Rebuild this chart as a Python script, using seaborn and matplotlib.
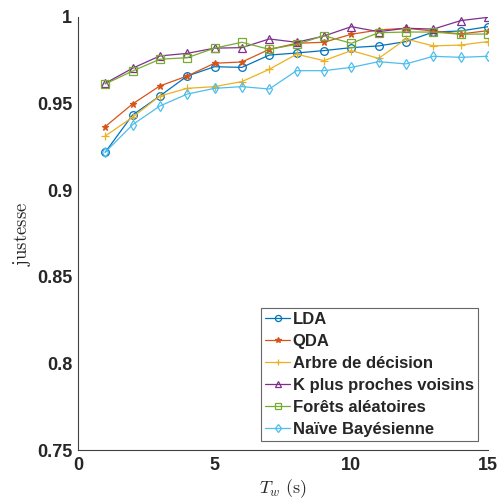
import numpy as np
import pandas as pd
import matplotlib.pyplot as plt
import seaborn as sns

sns.set_theme(style="white")
plt.rcParams['font.family'] = ['Liberation Sans', 'DejaVu Sans']
plt.rcParams['mathtext.fontset'] = 'cm'

tw = list(range(1, 16))
lda = [0.9219, 0.9434, 0.9544, 0.9659, 0.9713, 0.9709, 0.9780, 0.9792, 0.9806,
       0.9823, 0.9833, 0.9858, 0.9913, 0.9919, 0.9944]
qda = [0.9367, 0.9498, 0.9602, 0.9659, 0.9733, 0.9740, 0.9813, 0.9848, 0.9854,
       0.9900, 0.9925, 0.9935, 0.9919, 0.9902, 0.9921]
arbre = [0.9313, 0.9421, 0.9544, 0.9588, 0.9598, 0.9627, 0.9698, 0.9785, 0.9748,
         0.9806, 0.9761, 0.9873, 0.9833, 0.9838, 0.9858]
knn = [0.9617, 0.9704, 0.9775, 0.9790, 0.9820, 0.9823, 0.9873, 0.9854, 0.9890,
       0.9944, 0.9915, 0.9935, 0.9930, 0.9979, 0.9998]
forets = [0.9613, 0.9688, 0.9756, 0.9765, 0.9820, 0.9854, 0.9813, 0.9842, 0.9892,
          0.9848, 0.9909, 0.9913, 0.9913, 0.9900, 0.9902]
bayes = [0.9219, 0.9378, 0.9486, 0.9555, 0.9588, 0.9598, 0.9584, 0.9690, 0.9690,
         0.9709, 0.9742, 0.9729, 0.9773, 0.9767, 0.9773]

series = [
    ("LDA", lda, "#0072BD", "o", True),
    ("QDA", qda, "#D95319", "*", False),
    ("Arbre de décision", arbre, "#EDB120", "+", False),
    ("K plus proches voisins", knn, "#7E2F8E", "^", True),
    ("Forêts aléatoires", forets, "#77AC30", "s", True),
    ("Naïve Bayésienne", bayes, "#4DBEEE", "d", True),
]

fig, ax = plt.subplots(figsize=(4.99, 4.99), dpi=100)
fig.subplots_adjust(left=0.156, right=0.978, top=0.966, bottom=0.098)

for nom, vals, couleur, mk, creux in series:
    sns.lineplot(x=tw, y=vals, ax=ax, color=couleur, marker=mk, label=nom,
                 linewidth=0.9, markersize=5.5 if mk != "*" else 5,
                 markerfacecolor="none" if creux else couleur,
                 markeredgecolor=couleur, markeredgewidth=0.9)

ax.set_xlim(0, 15)
ax.set_ylim(0.75, 1)
ax.set_xticks([0, 5, 10, 15])
ax.set_yticks([0.75, 0.8, 0.85, 0.9, 0.95, 1])
ax.set_yticklabels(["0.75", "0.8", "0.85", "0.9", "0.95", "1"])
for s in ["top", "right"]:
    ax.spines[s].set_visible(False)
for s in ["left", "bottom"]:
    ax.spines[s].set_color("#404040")
    ax.spines[s].set_linewidth(0.8)
ax.tick_params(direction="in", length=4, width=0.8, color="#404040",
               labelsize=13, pad=4)
ax.tick_params(axis="x", pad=5)
for lab in ax.get_xticklabels() + ax.get_yticklabels():
    lab.set_fontweight("bold")
ax.set_xlabel(r"$T_w\ \mathrm{(s)}$", fontsize=13)
ax.xaxis.set_label_coords(0.5, -0.088)
ax.xaxis.label.set_va("center")
ax.set_ylabel(r"$\mathrm{justesse}$", fontsize=13.5, labelpad=3)

leg = ax.legend(loc="lower right", bbox_to_anchor=(0.975, 0.02), frameon=True,
                fancybox=False, edgecolor="#404040", handlelength=1.5,
                handletextpad=0.15, borderpad=0.25, labelspacing=0.42,
                borderaxespad=0.0, markerscale=0.8,
                prop={"weight": "bold", "size": 12})
leg.get_frame().set_linewidth(0.8)

fig.savefig("out.png", dpi=100)
